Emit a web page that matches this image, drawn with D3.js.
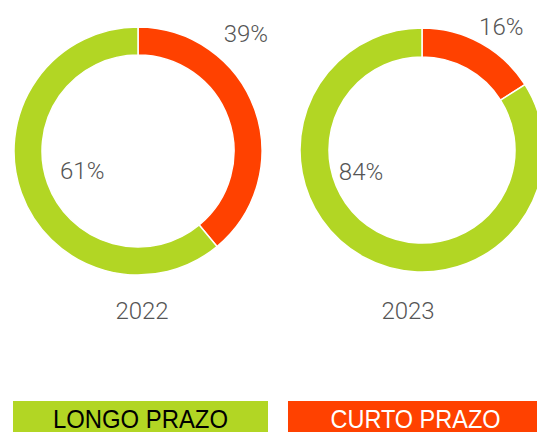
<!DOCTYPE html>
<html>
<head>
<meta charset="utf-8">
<script src="https://cdn.jsdelivr.net/npm/d3@7"></script>
<style>
  html, body { margin: 0; padding: 0; background: #fff; overflow: hidden; }
  svg { display: block; }
</style>
</head>
<body>
<svg id="chart" width="537" height="432"></svg>
<script>
// data
var years = ["2022", "2023"];
var categories = ["CURTO PRAZO", "LONGO PRAZO"];
var curtoPrazo = [39, 16];
var longoPrazo = [61, 84];

var colors = {
  "CURTO PRAZO": "#ff4100",
  "LONGO PRAZO": "#b2d624"
};
var legendOrder = ["LONGO PRAZO", "CURTO PRAZO"];

// layout of each donut (center, radius) and where labels sit, in radius units
var panels = [
  { cx: 138, cy: 151, r: 124, inner: 96, yearX: 142,
    labelPos: { "CURTO PRAZO": [0.87, -0.95], "LONGO PRAZO": [-0.45, 0.16] } },
  { cx: 422, cy: 150, r: 122, inner: 93, yearX: 408,
    labelPos: { "CURTO PRAZO": [0.65, -1.01], "LONGO PRAZO": [-0.5, 0.18] } }
];

var svg = d3.select("#chart"),
  pct = function(v) { return v + "%"; };

var pie = d3.pie()
  .sort(null)
  .value(function(d) { return d.value; });

years.forEach(function(year, i) {
  var p = panels[i],
    slices = pie([
      { key: categories[0], value: curtoPrazo[i] },
      { key: categories[1], value: longoPrazo[i] }
    ]),
    arc = d3.arc()
      .innerRadius(p.inner)
      .outerRadius(p.r),
    g = svg.append("g")
      .attr("class", "donut")
      .attr("transform", "translate(" + p.cx + "," + p.cy + ")");

  g.selectAll("path")
    .data(slices)
    .enter()
    .append("path")
    .attr("d", arc)
    .attr("fill", function(d) { return colors[d.data.key]; })
    .attr("stroke", "#fff")
    .attr("stroke-width", 1.5);

  g.selectAll("text.pct")
    .data(slices)
    .enter()
    .append("text")
    .attr("class", "pct")
    .attr("x", function(d) { return p.labelPos[d.data.key][0] * p.r; })
    .attr("y", function(d) { return p.labelPos[d.data.key][1] * p.r; })
    .attr("dy", "0.35em")
    .attr("text-anchor", "middle")
    .attr("font-family", "Roboto, sans-serif")
    .attr("font-weight", 300)
    .attr("font-size", 24)
    .attr("fill", "#555")
    .text(function(d) { return pct(d.data.value); });

  svg.append("text")
    .attr("x", p.yearX)
    .attr("y", 319)
    .attr("text-anchor", "middle")
    .attr("font-family", "Roboto, sans-serif")
    .attr("font-weight", 300)
    .attr("font-size", 24)
    .attr("fill", "#555")
    .text(year);
});

// legend
var legendX = d3.scaleBand()
  .domain(legendOrder)
  .range([13, 543])
  .paddingInner(0.0727)
  .paddingOuter(0);

var legend = svg.selectAll("g.legend")
  .data(legendOrder)
  .enter()
  .append("g")
  .attr("class", "legend")
  .attr("transform", function(d) { return "translate(" + legendX(d) + ",401)"; });

legend.append("rect")
  .attr("width", legendX.bandwidth())
  .attr("height", 40)
  .attr("fill", function(d) { return colors[d]; });

legend.append("text")
  .attr("x", legendX.bandwidth() / 2)
  .attr("y", 27)
  .attr("text-anchor", "middle")
  .attr("font-family", "'Liberation Sans Narrow', 'Arial Narrow', sans-serif")
  .attr("font-size", 26)
  .attr("textLength", function(d) { return d === "LONGO PRAZO" ? 175 : 170; })
  .attr("lengthAdjust", "spacingAndGlyphs")
  .attr("fill", function(d) { return d === "LONGO PRAZO" ? "#000" : "#fff"; })
  .text(function(d) { return d; });
</script>
</body>
</html>
